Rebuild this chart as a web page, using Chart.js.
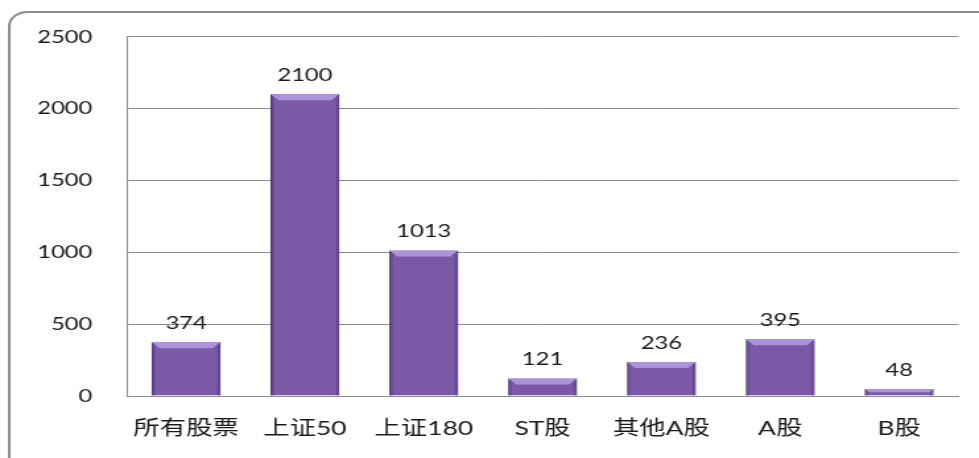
<!DOCTYPE html>
<html>
<head>
<meta charset="utf-8">
<script src="https://cdn.jsdelivr.net/npm/chart.js@4/dist/chart.umd.min.js"></script>
<style>
  html, body { margin: 0; padding: 0; background: #fff; overflow: hidden; }
  /* the original picture is stretched sideways; draw narrow and widen it */
  #c { display: block; width: 979px !important; height: 458px !important; }
</style>
</head>
<body>
<canvas id="c" width="742" height="458"></canvas>
<script>
var categories = ["所有股票", "上证50", "上证180", "ST股", "其他A股", "A股", "B股"];
var counts = [374, 2100, 1013, 121, 236, 395, 48];
var yTicks = [0, 500, 1000, 1500, 2000, 2500];

var fontFamily = "Lato, 'Noto Sans CJK SC', sans-serif";

// rounded frame around the whole chart
var framePlugin = {
    id: "frame",
    beforeDraw: function(chart) {
        var ctx = chart.ctx;
        ctx.save();
        ctx.fillStyle = "#fff";
        ctx.fillRect(0, 0, chart.width, chart.height);
        ctx.beginPath();
        ctx.roundRect(7, 12, chart.width + 20, chart.height + 30, 14);
        ctx.strokeStyle = "#8c8c8c";
        ctx.lineWidth = 2;
        ctx.stroke();
        ctx.restore();
    }
};

// bevel on top of each bar + value label
var bevelPlugin = {
    id: "bevel",
    afterDatasetsDraw: function(chart) {
        var ctx = chart.ctx;
        var meta = chart.getDatasetMeta(0);
        ctx.save();
        meta.data.forEach(function(bar, i) {
            var half = bar.width / 2;
            var l = bar.x - half, r = bar.x + half;
            var top = bar.y, bot = bar.base;
            var b = Math.min(6, (bot - top) / 2);
            // top bevel
            ctx.beginPath();
            ctx.moveTo(l, top);
            ctx.lineTo(r, top);
            ctx.lineTo(r - b, top + b);
            ctx.lineTo(l + b, top + b);
            ctx.closePath();
            ctx.fillStyle = "#ab92da";
            ctx.fill();
            // side shading
            ctx.fillStyle = "rgba(60,35,100,0.35)";
            ctx.beginPath();
            ctx.moveTo(r, top);
            ctx.lineTo(r, bot);
            ctx.lineTo(r - 2.5, bot);
            ctx.lineTo(r - 2.5, top + 2.5);
            ctx.closePath();
            ctx.fill();
            ctx.beginPath();
            ctx.moveTo(l, top);
            ctx.lineTo(l, bot);
            ctx.lineTo(l + 2.5, bot);
            ctx.lineTo(l + 2.5, top + 2.5);
            ctx.closePath();
            ctx.fill();
            // value label
            ctx.fillStyle = "#1a1a1a";
            ctx.font = "18px " + fontFamily;
            ctx.textAlign = "center";
            ctx.textBaseline = "alphabetic";
            ctx.fillText(String(counts[i]), bar.x, top - 13.5);
        });
        ctx.restore();
    }
};

new Chart(document.getElementById("c"), {
    type: "bar",
    data: {
        labels: categories,
        datasets: [{
            data: counts,
            backgroundColor: function(context) {
                var chart = context.chart;
                var el = context.element;
                if (!el || !chart.chartArea || !isFinite(el.x) || !isFinite(el.width)) return "#7a5aa6";
                var w = el.width;
                var g = chart.ctx.createLinearGradient(el.x - w / 2, 0, el.x + w / 2, 0);
                g.addColorStop(0, "#6d4d98");
                g.addColorStop(0.5, "#7f5eac");
                g.addColorStop(1, "#6d4d98");
                return g;
            },
            borderColor: "#5a3f82",
            borderWidth: 1,
            borderSkipped: "bottom",
            barPercentage: 0.58,
            categoryPercentage: 1.0
        }]
    },
    options: {
        responsive: false,
        animation: false,
        devicePixelRatio: 1,
        layout: { padding: { left: 0, right: 15.5, top: 21.2, bottom: 0 } },
        plugins: {
            legend: { display: false },
            tooltip: { enabled: false }
        },
        scales: {
            x: {
                grid: { display: false, drawTicks: false },
                border: { display: true, color: "#8c8c8c", width: 1 },
                ticks: {
                    color: "#1a1a1a",
                    font: { size: 20, family: fontFamily },
                    padding: 21,
                    maxRotation: 0
                },
                afterFit: function(scale) { scale.height = 62; }
            },
            y: {
                min: 0,
                max: 2500,
                afterBuildTicks: function(scale) {
                    scale.ticks = yTicks.map(function(v) { return { value: v }; });
                },
                grid: { color: "#8c8c8c", drawTicks: false, lineWidth: 1 },
                border: { display: true, color: "#8c8c8c", width: 1 },
                ticks: {
                    color: "#1a1a1a",
                    font: { size: 18, family: fontFamily },
                    padding: 26,
                    callback: function(v) { return String(v); }
                },
                afterFit: function(scale) { scale.width = 96; }
            }
        }
    },
    plugins: [framePlugin, bevelPlugin]
});
</script>
</body>
</html>
